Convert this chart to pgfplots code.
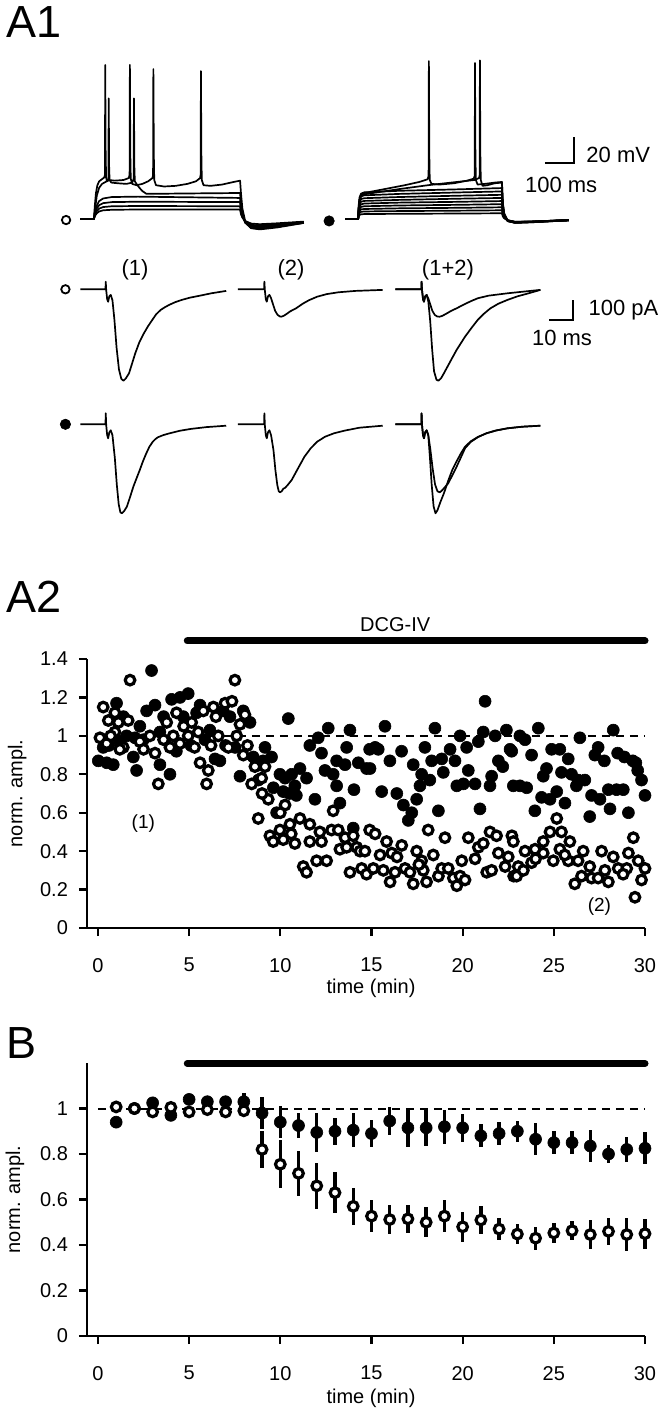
\documentclass[border=0pt]{standalone}
\usepackage{fontspec}
\setmainfont{Liberation Sans}
\setsansfont{Liberation Sans}
\usepackage{pgfplots}
\pgfplotsset{compat=1.18}

\pgfplotsset{
  trc/.style={black, line width=0.85pt, no marks, line join=round},
  tracebox/.style={hide axis, scale only axis, clip=false, anchor=south west},
  fdot/.style={only marks, mark=*, mark size=3pt, mark options={fill=black, draw=black, line width=0.3pt}},
  odot/.style={only marks, mark=*, mark size=2.4pt, mark options={fill=white, draw=black, line width=1.6pt}},
  panel/.style={
    scale only axis, anchor=south west, clip=false,
    width=279pt, xmin=-0.6, xmax=30, ymin=0,
    axis lines=left, axis line style={-, line width=1.1pt},
    tick style={black, line width=1.1pt}, tick align=outside, major tick length=4pt,
    xtick={0,5,...,30},
    ticklabel style={font=\fontsize{10}{12}\selectfont},
    xticklabel shift=7.5pt, yticklabel shift=2pt,
    /pgf/number format/assume math mode=true,
    /pgf/number format/fixed,
    xlabel={time (min)}, ylabel={norm. ampl.},
    label style={font=\fontsize{10.5}{12}\selectfont},
  },
}

\begin{document}
\begin{tikzpicture}
\useasboundingbox (0,0) rectangle (331.5pt,-706.5pt);

\node[anchor=base west, inner sep=0, font=\fontsize{22.5}{26}\selectfont] at (3pt,-19pt) {A1};
\node[anchor=base west, inner sep=0, font=\fontsize{22.5}{26}\selectfont] at (3pt,-306pt) {A2};
\node[anchor=base west, inner sep=0, font=\fontsize{22.5}{26}\selectfont] at (3pt,-529pt) {B};

% ---------- A1: voltage responses (ms, mV) ----------
\begin{axis}[tracebox, at={(40pt,-116pt)}, width=249.4pt, height=91pt,
  xmin=0, xmax=1720, ymin=-80, ymax=60]
% open symbol, subthreshold steps
\addplot[trc] coordinates {(0,-70) (48,-70) (52,-67.4) (58,-65.6) (66,-64.2) (80,-63.3) (110,-62.9) (200,-62.7) (552,-62.7) (555,-66.3) (560,-68.9) (570,-71.5) (590,-73.5) (620,-74) (680,-73.3) (772,-72)};
\addplot[trc] coordinates {(0,-70) (48,-70) (52,-66.5) (58,-64) (66,-62) (80,-60.8) (110,-60.2) (200,-60) (552,-60.2) (555,-65) (560,-68.5) (570,-72) (590,-74.5) (620,-75) (680,-74) (772,-72.3)};
\addplot[trc] coordinates {(0,-70) (48,-70) (52,-65.3) (58,-62) (66,-59.4) (80,-57.8) (110,-57) (200,-56.7) (552,-57) (555,-63.5) (560,-68) (570,-72.5) (590,-75.3) (620,-75.8) (680,-74.6) (772,-72.6)};
\addplot[trc] coordinates {(0,-70) (48,-70) (52,-64) (58,-59.7) (66,-56.2) (80,-54.2) (110,-53.1) (200,-52.8) (552,-53.8) (555,-62) (560,-67.5) (570,-72.8) (590,-76) (620,-76.5) (680,-75.2) (772,-72.8)};
% open symbol, firing
\addplot[trc] coordinates {(0,-70) (48,-70) (52,-62) (58,-52) (66,-46) (76,-43) (88,-41.5) (96,-40.5) (98,-38) (99,22.8) (100.5,-30) (102,-40) (108,-42) (130,-42.5) (160,-43) (180,-42) (185,-39) (186,22.8) (187.5,-30) (189,-41) (195,-43) (205,-46) (215,-48.5) (228,-50.5) (260,-50.6) (400,-50.3) (552,-50) (555,-58) (560,-66) (570,-73) (590,-77) (620,-77.5) (680,-76) (772,-73)};
\addplot[trc] coordinates {(0,-70) (48,-70) (51,-60) (55,-50) (60,-44) (66,-41) (75,-39.5) (84,-38) (86,-36) (87,48.5) (88.5,-20) (90,-38) (93,-41) (100,-40) (120,-40.5) (150,-40) (168,-38.5) (171,-36) (172,48.5) (173.5,-20) (175,-39) (180,-43) (195,-44) (215,-43) (235,-41) (250,-38.5) (252,-36) (253,45.4) (254.5,-20) (256,-40) (262,-44) (290,-45) (330,-44.5) (370,-43) (400,-41) (414,-38.5) (416,-36) (417,43.8) (418.5,-20) (420,-40) (426,-44) (450,-44.5) (490,-43.5) (530,-41.5) (552,-40.5) (555,-50) (560,-62) (570,-72) (590,-77) (620,-78) (680,-76.5) (772,-73)};
% filled symbol, subthreshold steps
\addplot[trc] coordinates {(914,-70) (959,-70) (961,-68.0) (964,-66.9) (969,-66.4) (980,-66.2) (1100,-66.0) (1300,-65.8) (1455,-65.6) (1458,-68.0) (1463,-69.5) (1475,-71) (1500,-72.1) (1560,-71.9) (1686,-70.8)};
\addplot[trc] coordinates {(914,-70) (959,-70) (961,-67.0) (964,-65.3) (969,-64.5) (980,-64.2) (1100,-63.9) (1300,-63.6) (1455,-63.3) (1458,-67.0) (1463,-69.2) (1475,-71) (1500,-72.2) (1560,-72.0) (1686,-70.8)};
\addplot[trc] coordinates {(914,-70) (959,-70) (961,-66.0) (964,-63.7) (969,-62.6) (980,-62.3) (1100,-61.8) (1300,-61.4) (1455,-61) (1458,-66.0) (1463,-68.9) (1475,-71) (1500,-72.3) (1560,-72.0) (1686,-70.8)};
\addplot[trc] coordinates {(914,-70) (959,-70) (961,-64.9) (964,-62.0) (969,-60.7) (980,-60.2) (1100,-59.6) (1300,-59.1) (1455,-58.6) (1458,-64.9) (1463,-68.6) (1475,-71.2) (1500,-72.3) (1560,-72.0) (1686,-70.8)};
\addplot[trc] coordinates {(914,-70) (959,-70) (961,-63.8) (964,-60.3) (969,-58.7) (980,-58.1) (1100,-57.4) (1300,-56.8) (1455,-56.2) (1458,-63.8) (1463,-68.3) (1475,-71.3) (1500,-72.4) (1560,-72.1) (1686,-70.9)};
\addplot[trc] coordinates {(914,-70) (959,-70) (961,-62.7) (964,-58.7) (969,-56.7) (980,-56.1) (1100,-55.3) (1300,-54.4) (1455,-53.8) (1458,-62.7) (1463,-68.1) (1475,-71.4) (1500,-72.5) (1560,-72.1) (1686,-70.9)};
\addplot[trc] coordinates {(914,-70) (959,-70) (961,-61.6) (964,-57.0) (969,-54.7) (980,-54.0) (1100,-53.1) (1300,-52.1) (1455,-51.4) (1458,-61.6) (1463,-67.8) (1475,-71.5) (1500,-72.6) (1560,-72.2) (1686,-70.9)};
\addplot[trc] coordinates {(914,-70) (959,-70) (961,-60.5) (964,-55.2) (969,-52.6) (980,-51.8) (1100,-50.7) (1300,-49.6) (1455,-48.8) (1458,-60.5) (1463,-67.5) (1475,-71.6) (1500,-72.6) (1560,-72.2) (1686,-71)};
\addplot[trc] coordinates {(914,-70) (959,-70) (961,-59.3) (964,-53.3) (969,-50.5) (980,-49.5) (1100,-48.3) (1300,-47.2) (1455,-46.2) (1458,-59.3) (1463,-67.1) (1475,-71.7) (1500,-72.7) (1560,-72.3) (1686,-71)};
% filled symbol, firing
\addplot[trc] coordinates {(914,-70) (959,-70) (961,-62) (964,-55) (969,-51.5) (980,-50) (1050,-47) (1120,-44) (1170,-41.5) (1198,-39.5) (1202,-37) (1203,51.5) (1204.5,-20) (1206,-40) (1212,-43) (1240,-43.5) (1290,-42.5) (1335,-40.5) (1357,-39) (1361,-37) (1362,50) (1363.5,-20) (1365,-40) (1371,-43.5) (1395,-43) (1430,-42) (1455,-41.5) (1458,-58) (1463,-66) (1475,-71.5) (1500,-73) (1560,-72.5) (1686,-71)};
\addplot[trc] coordinates {(914,-70) (959,-70) (961,-63) (964,-56) (969,-52.5) (980,-51) (1100,-47) (1200,-44) (1300,-41.5) (1360,-40) (1376,-38.5) (1378,-36.5) (1379,52) (1380.5,-20) (1382,-40) (1388,-44.5) (1405,-44) (1430,-42.5) (1455,-42) (1458,-58) (1463,-66) (1475,-71.5) (1500,-73) (1560,-72.5) (1686,-71)};
% symbols and scale bar
\addplot[only marks, mark=*, mark size=2.1pt, mark options={fill=white, draw=black, line width=0.9pt}] coordinates {(-48,-70.8)};
\addplot[fdot, mark size=2.6pt] coordinates {(859,-71.5)};
\addplot[black, line width=1pt, no marks] coordinates {(1603,-26.9) (1703,-26.9) (1703,-6.9)};
\node[anchor=west, inner sep=0, font=\fontsize{11}{13}\selectfont] at (axis cs:1745,-20.8) {20 mV};
\node[anchor=center, inner sep=0, font=\fontsize{11}{13}\selectfont] at (axis cs:1659,-43.8) {100 ms};
\end{axis}

% ---------- A1: synaptic currents, open symbol (ms, pA) ----------
\begin{axis}[tracebox, at={(40.15pt,-194.65pt)}, width=288pt, height=60pt,
  xmin=0, xmax=240, ymin=-500, ymax=100]
\addplot[trc] coordinates {(0,0) (10.5,0) (10.6,38) (10.8,-5) (11.2,-50) (11.6,-62) (12.1,-35) (12.7,-28) (13.4,-55) (14.2,-150) (15.1,-290) (16.1,-400) (17.1,-448) (18.0,-457) (19.0,-445) (20.3,-420) (21.6,-370) (22.9,-320) (24.6,-265) (26.5,-220) (28.2,-185) (30.0,-153) (31.6,-125) (33.5,-103) (35.2,-90) (37.0,-78) (39.6,-64) (42.3,-53) (45.6,-42) (49.4,-33) (54.6,-20) (60.8,-8)};
\addplot[trc] coordinates {(65.7,0) (76.6,0) (76.7,38) (76.9,-5) (77.3,-50) (77.7,-62) (78.2,-35) (78.8,-28) (79.5,-45) (80.3,-75) (81.2,-108) (82.2,-128) (83.2,-136) (83.7,-137) (84.7,-133) (86,-123) (87.5,-110) (89.9,-95) (92.7,-72) (95.2,-55) (98.7,-37) (102.7,-24) (107.5,-15) (114.7,-8) (126,-3)};
\addplot[trc] coordinates {(131.3,0) (142.1,0) (142.2,38) (142.4,-5) (142.8,-50) (143.2,-62) (143.7,-35) (144.3,-28) (145.0,-60) (145.8,-160) (146.6,-300) (147.4,-410) (148.4,-452) (149.2,-457) (150.3,-445) (151.5,-420) (154.2,-360) (156.8,-303) (160.3,-237) (163.2,-190) (165.6,-153) (168.2,-122) (170.9,-95) (174.2,-72) (178.0,-53) (182.2,-35) (186.8,-20) (191.7,-3)};
\addplot[trc] coordinates {(131.3,0) (142.1,0) (142.2,38) (142.4,-5) (142.8,-50) (143.2,-62) (143.7,-35) (144.3,-28) (145.0,-45) (145.8,-75) (146.7,-108) (147.7,-128) (148.7,-136) (149.7,-137) (150.8,-133) (152.5,-122) (154.5,-108) (156.8,-95) (160.0,-75) (163.0,-58) (165.6,-45) (170.0,-32) (178.0,-20) (186.0,-10) (191.7,-3)};
\addplot[only marks, mark=*, mark size=2.1pt, mark options={fill=white, draw=black, line width=0.9pt}] coordinates {(-6.2,0)};
\addplot[black, line width=1pt, no marks] coordinates {(195.3,-153.5) (205.3,-153.5) (205.3,-53.5)};
\node[anchor=west, inner sep=0, font=\fontsize{11}{13}\selectfont] at (axis cs:211.6,-103.5) {100 pA};
\node[anchor=center, inner sep=0, font=\fontsize{11}{13}\selectfont] at (axis cs:200.7,-243.5) {10 ms};
\node[anchor=center, inner sep=0, font=\fontsize{11}{13}\selectfont] at (axis cs:22.8,99) {(1)};
\node[anchor=center, inner sep=0, font=\fontsize{11}{13}\selectfont] at (axis cs:87.8,99) {(2)};
\node[anchor=center, inner sep=0, font=\fontsize{11}{13}\selectfont] at (axis cs:153.2,99) {(1+2)};
\end{axis}

% ---------- A1: synaptic currents, filled symbol ----------
\begin{axis}[tracebox, at={(40.15pt,-262.15pt)}, width=288pt, height=60pt,
  xmin=0, xmax=240, ymin=-500, ymax=100]
\addplot[trc] coordinates {(0,0) (10.5,0) (10.6,55) (10.8,-5) (11.2,-55) (11.6,-70) (12.1,-40) (12.7,-30) (13.4,-55) (14.4,-170) (15.2,-300) (16.0,-400) (16.7,-440) (17.3,-445) (18.2,-435) (19.4,-412) (20.7,-365) (22.1,-312) (23.5,-268) (24.8,-228) (26.1,-185) (27.5,-145) (28.8,-112) (30.2,-87) (31.3,-74) (32.3,-65) (34.6,-54) (37.2,-45) (41.6,-32) (46.1,-23) (52.6,-14) (60.8,-7)};
\addplot[trc] coordinates {(65.7,0) (76.6,0) (76.7,55) (76.9,-5) (77.3,-55) (77.7,-70) (78.2,-40) (78.8,-30) (79.5,-55) (80.5,-130) (81.3,-230) (82.1,-305) (82.7,-335) (83.2,-340) (83.9,-335) (84.6,-322) (85.3,-318) (86.3,-305) (88.1,-278) (90.5,-225) (93.4,-162) (96,-120) (98.7,-87) (102,-62) (105.7,-45) (110,-32) (116.3,-17) (126,-7)};
\addplot[trc] coordinates {(131.3,0) (142.1,0) (142.2,55) (142.4,-5) (142.8,-55) (143.2,-70) (143.7,-40) (144.3,-30) (145.0,-55) (145.7,-170) (146.4,-300) (147.2,-410) (148.0,-445) (148.8,-430) (150.0,-390) (151.5,-345) (153.2,-285) (155.0,-228) (156.8,-185) (158.6,-145) (160.3,-112) (162.7,-85) (165.7,-63) (169.2,-45) (173.2,-31) (178.0,-20) (184.2,-12) (191.7,-7)};
\addplot[trc] coordinates {(131.3,0) (142.1,0) (142.2,55) (142.4,-5) (142.8,-55) (143.2,-70) (143.7,-40) (144.3,-30) (145.0,-55) (145.8,-120) (146.8,-220) (147.8,-300) (148.8,-335) (149.8,-340) (150.6,-332) (151.5,-320) (153.3,-295) (155.0,-255) (156.8,-212) (158.6,-165) (160.3,-120) (162.7,-88) (165.7,-64) (169.2,-45) (173.2,-31) (178.0,-20) (184.2,-12) (191.7,-7)};
\addplot[fdot, mark size=2.6pt] coordinates {(-6.2,0)};
\end{axis}

% ---------- A2: single experiment ----------
\begin{axis}[panel, at={(43.5pt,-464pt)}, height=134.5pt, ymax=1.4,
  ytick={0,0.2,...,1.4},
  every axis y label/.style={at={(axis description cs:-0.125,0.5)}, rotate=90, anchor=center},
  every axis x label/.style={at={(axis description cs:0.509,-0.226)}, anchor=center}]
\addplot[black, line width=1pt, dash pattern=on 4pt off 3pt, no marks] coordinates {(0,1) (30,1)};
\addplot[black, line width=3.5pt, line cap=round, no marks] coordinates {(4.9,1.494) (30,1.494)};
\addplot[fdot] coordinates {
(2.94,1.34) (0.02,0.87) (0.48,0.86) (0.84,0.85) (1.02,1.17) (0.29,0.94) (1.94,0.89) (2.12,0.82)
(2.67,1.13) (3.13,1.16) (2.49,0.98) (3.4,0.85) (3.95,0.8) (4.04,1.19) (4.5,1.2) (4.95,1.22)
(4.68,1.1) (5.41,1.12) (5.87,0.98) (6.42,0.88) (6.69,0.87) (6.14,1.03) (6.87,1.13) (7.24,1.1)
(3.4,1.02) (2.03,0.99) (1.57,1.0) (0.6,0.95) (1.2,0.97) (1.4,1.1) (3.6,1.1) (4.3,0.92)
(5.1,0.95) (5.6,1.16) (7.0,0.95) (2.3,1.05) (0.9,1.0)
(7.97,1.13) (8.34,1.07) (7.52,0.94) (7.79,0.79) (8.52,0.89) (9.16,0.94) (9.52,0.89) (9.06,0.87)
(10.44,1.09) (9.98,0.8) (10.26,0.78) (10.62,0.8) (11.08,0.83) (11.44,0.78) (10.8,0.74) (9.62,0.73)
(10.16,0.71) (10.88,0.69) (11.9,0.67) (9.8,0.6) (11.62,0.95) (12.08,0.99) (12.63,1.04) (12.26,0.91)
(13.64,0.94) (13.82,1.03) (12.45,0.82) (12.9,0.8) (13.09,0.87) (13.55,0.85) (14.28,0.86) (14.73,0.83)
(13.09,0.74) (14.04,0.72) (13.27,0.65) (14.0,0.52) (14.9,0.93) (8.8,0.77) (10.5,0.7)
(15.74,1.05) (18.48,1.04) (21.23,1.18) (15.2,0.94) (15.37,0.93) (16.01,0.87) (16.65,0.92) (17.29,0.85)
(17.75,0.8) (17.93,0.94) (18.2,0.77) (17.66,0.74) (18.3,0.87) (18.85,0.88) (19.31,0.93) (19.58,0.87)
(18.94,0.81) (19.86,1.0) (20.22,0.94) (20.86,0.97) (21.13,1.02) (21.78,1.0) (22.4,1.03) (21.96,0.87)
(22.2,0.84) (20.31,0.82) (19.68,0.74) (20.04,0.75) (20.68,0.75) (21.5,0.74) (21.59,0.79) (15.56,0.71)
(16.39,0.7) (16.75,0.64) (17.21,0.6) (17.02,0.56) (17.48,0.67) (18.67,0.61) (20.95,0.62) (14.92,0.83)
(24.15,1.04) (28.26,1.03) (26.43,0.99) (23.14,1.0) (23.42,0.98) (22.69,0.92) (23.78,0.9) (24.88,0.93)
(25.33,0.93) (25.79,0.88) (27.43,0.94) (27.25,0.9) (27.77,0.87) (28.5,0.91) (28.87,0.89) (29.33,0.87)
(29.5,0.86) (29.6,0.82) (29.81,0.77) (30.0,0.69) (24.6,0.83) (24.42,0.79) (25.42,0.81) (25.97,0.8)
(26.33,0.77) (26.7,0.77) (26.24,0.74) (22.78,0.74) (23.14,0.74) (23.51,0.73) (24.33,0.68) (24.79,0.67)
(25.16,0.71) (25.61,0.65) (23.96,0.61) (27.07,0.69) (27.53,0.67) (27.99,0.72) (28.44,0.72) (28.81,0.72)
(28.08,0.62) (26.97,0.58) (29.09,0.6) (22.6,0.93)
};
\addplot[odot] coordinates {
(1.76,1.29) (0.29,1.15) (0.93,1.12) (0.57,1.08) (1.12,1.07) (1.66,1.08) (0.11,0.99) (0.48,0.96)
(1.39,0.94) (0.93,1.02) (2.85,1.0) (3.13,0.91) (3.31,0.75) (3.77,1.07) (4.31,1.12) (4.13,1.0)
(3.95,0.94) (4.5,0.96) (4.95,1.0) (5.14,1.07) (5.5,1.02) (5.3,0.94) (5.6,0.86) (6.05,0.82)
(5.96,0.75) (5.78,1.13) (6.33,1.15) (6.47,1.1) (6.6,1.0) (7.15,0.94) (6.97,1.17) (7.35,1.18)
(2.3,0.97) (1.2,0.93) (3.6,0.98) (4.7,1.05) (6.2,0.95) (2.5,0.93) (0.7,1.0)
(7.51,1.29) (8.06,1.11) (7.79,1.06) (7.61,1.0) (7.97,0.9) (8.61,0.84) (9.16,0.84) (8.43,0.75)
(8.98,0.78) (9.34,0.67) (10.26,0.64) (8.79,0.57) (9.43,0.48) (9.61,0.45) (9.98,0.51) (10.16,0.46)
(10.53,0.54) (11.08,0.57) (10.8,0.44) (11.62,0.54) (11.62,0.45) (12.17,0.5) (12.26,0.45) (11.26,0.32)
(11.44,0.29) (11.99,0.35) (12.54,0.35) (12.9,0.61) (12.81,0.51) (13.18,0.51) (13.27,0.41) (13.55,0.47)
(13.64,0.42) (14.0,0.48) (14.19,0.42) (14.37,0.4) (14.64,0.4) (13.82,0.29) (14.46,0.31) (14.73,0.28)
(14.9,0.51) (8.2,0.95) (9.0,0.7) (10.0,0.6) (10.6,0.49)
(15.2,0.49) (15.83,0.45) (15.47,0.38) (15.1,0.31) (15.65,0.3) (16.02,0.24) (16.29,0.29) (16.11,0.39)
(16.66,0.43) (16.84,0.31) (17.11,0.29) (17.29,0.23) (17.48,0.4) (17.75,0.35) (17.84,0.3) (18.02,0.24)
(18.11,0.51) (18.39,0.38) (18.67,0.27) (18.85,0.31) (19.03,0.47) (19.21,0.31) (19.49,0.26) (19.68,0.22)
(19.86,0.27) (20.13,0.25) (19.95,0.35) (20.31,0.47) (20.68,0.36) (20.86,0.42) (21.13,0.44) (21.32,0.29)
(21.59,0.3) (21.5,0.5) (21.86,0.48) (21.96,0.39) (22.33,0.32) (22.5,0.37) (22.7,0.48) (22.8,0.27)
(16.4,0.37) (17.6,0.33)
(25.16,0.57) (24.79,0.5) (25.42,0.5) (24.42,0.45) (25.88,0.45) (22.78,0.45) (23.42,0.4) (23.97,0.41)
(24.42,0.39) (24.97,0.35) (25.33,0.41) (25.79,0.35) (26.33,0.35) (26.61,0.4) (26.97,0.32) (23.05,0.32)
(23.78,0.34) (22.96,0.27) (23.33,0.3) (26.15,0.23) (26.52,0.27) (27.07,0.26) (27.43,0.26) (27.62,0.4)
(27.8,0.3) (27.99,0.24) (28.26,0.37) (28.53,0.31) (29.0,0.31) (29.09,0.39) (29.36,0.47) (29.63,0.35)
(29.81,0.25) (30.0,0.31) (29.45,0.16) (24.0,0.36) (25.6,0.38) (28.8,0.28)
};
\node[font=\fontsize{10}{12}\selectfont, anchor=center] at (axis cs:16.3,1.577) {DCG-IV};
\node[font=\fontsize{9.5}{11}\selectfont, anchor=center] at (axis cs:2.49,0.545) {(1)};
\node[font=\fontsize{9.5}{11}\selectfont, anchor=center] at (axis cs:27.5,0.11) {(2)};
\end{axis}

% ---------- B: pooled data ----------
\begin{axis}[panel, at={(43.5pt,-668pt)}, height=136.5pt, ymax=1.2,
  ytick={0,0.2,...,1},
  every axis y label/.style={at={(axis description cs:-0.129,0.5)}, rotate=90, anchor=center},
  every axis x label/.style={at={(axis description cs:0.509,-0.228)}, anchor=center}]
\addplot[black, line width=1pt, dash pattern=on 4pt off 3pt, no marks] coordinates {(0,1) (30,1)};
\addplot[black, line width=3.5pt, line cap=round, no marks] coordinates {(4.9,1.198) (30,1.198)};
\addplot[only marks, mark=none, black, error bars/.cd, y dir=both, y explicit, error mark=none,
  error bar style={line width=1.7pt, black}] coordinates {
(1,0.94) +- (0,0.01) (2,1.0) +- (0,0.01) (3,1.025) +- (0,0.01) (4,0.97) +- (0,0.01)
(5,1.04) +- (0,0.015) (6,1.03) +- (0,0.02) (7,1.03) +- (0,0.02) (8,1.03) +- (0,0.04)
(9,0.98) +- (0,0.07) (10,0.94) +- (0,0.07) (11,0.925) +- (0,0.055) (12,0.895) +- (0,0.085)
(13,0.9) +- (0,0.06) (14,0.905) +- (0,0.075) (15,0.89) +- (0,0.06) (16,0.945) +- (0,0.06)
(17,0.915) +- (0,0.085) (18,0.915) +- (0,0.08) (19,0.92) +- (0,0.075) (20,0.915) +- (0,0.06)
(21,0.88) +- (0,0.05) (22,0.89) +- (0,0.05) (23,0.9) +- (0,0.045) (24,0.865) +- (0,0.07)
(25,0.85) +- (0,0.05) (26,0.85) +- (0,0.05) (27,0.835) +- (0,0.07) (28,0.8) +- (0,0.04)
(29,0.82) +- (0,0.055) (30,0.825) +- (0,0.07)
};
\addplot[fdot] coordinates {
(1,0.94) (2,1.0) (3,1.025) (4,0.97) (5,1.04) (6,1.03) (7,1.03) (8,1.03) (9,0.98) (10,0.94)
(11,0.925) (12,0.895) (13,0.9) (14,0.905) (15,0.89) (16,0.945) (17,0.915) (18,0.915) (19,0.92) (20,0.915)
(21,0.88) (22,0.89) (23,0.9) (24,0.865) (25,0.85) (26,0.85) (27,0.835) (28,0.8) (29,0.82) (30,0.825)
};
\addplot[only marks, mark=none, black, error bars/.cd, y dir=both, y explicit, error mark=none,
  error bar style={line width=1.7pt, black}] coordinates {
(1,1.007) +- (0,0.01) (2,1.0) +- (0,0.01) (3,0.985) +- (0,0.01) (4,1.005) +- (0,0.01)
(5,0.985) +- (0,0.01) (6,0.995) +- (0,0.01) (7,0.985) +- (0,0.01) (8,0.99) +- (0,0.01)
(9,0.82) +- (0,0.08) (10,0.755) +- (0,0.105) (11,0.715) +- (0,0.1) (12,0.66) +- (0,0.1)
(13,0.63) +- (0,0.09) (14,0.57) +- (0,0.08) (15,0.527) +- (0,0.07) (16,0.512) +- (0,0.065)
(17,0.515) +- (0,0.06) (18,0.5) +- (0,0.065) (19,0.527) +- (0,0.07) (20,0.48) +- (0,0.065)
(21,0.51) +- (0,0.062) (22,0.47) +- (0,0.05) (23,0.448) +- (0,0.045) (24,0.43) +- (0,0.05)
(25,0.453) +- (0,0.045) (26,0.463) +- (0,0.043) (27,0.446) +- (0,0.062) (28,0.46) +- (0,0.058)
(29,0.446) +- (0,0.073) (30,0.45) +- (0,0.066)
};
\addplot[odot] coordinates {
(1,1.007) (2,1.0) (3,0.985) (4,1.005) (5,0.985) (6,0.995) (7,0.985) (8,0.99) (9,0.82) (10,0.755)
(11,0.715) (12,0.66) (13,0.63) (14,0.57) (15,0.527) (16,0.512) (17,0.515) (18,0.5) (19,0.527) (20,0.48)
(21,0.51) (22,0.47) (23,0.448) (24,0.43) (25,0.453) (26,0.463) (27,0.446) (28,0.46) (29,0.446) (30,0.45)
};
\end{axis}
\end{tikzpicture}
\end{document}
